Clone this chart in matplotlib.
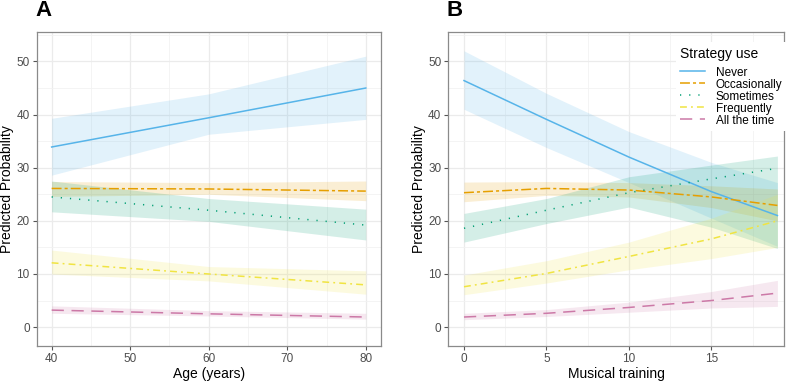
import matplotlib
matplotlib.use('Agg')
import matplotlib.pyplot as plt
from matplotlib.lines import Line2D

plt.rcParams['font.family'] = ['Liberation Sans', 'DejaVu Sans']

# strategy levels, colours and line styles
levels = ['Never', 'Occasionally', 'Sometimes', 'Frequently', 'All the time']
colors = ['#56B4E9', '#E69F00', '#009E73', '#F0E442', '#CC79A7']
styles = ['-', (0, (6.5, 2, 2, 2)), (0, (0.8, 5.2)), (0, (4.5, 2.7, 1.2, 2.7)), (0, (8, 5))]

# panel A: age
age = [40, 60, 80]
a_never = [33.9, 39.4, 45.0]
a_never_lo = [28.6, 36.3, 39.1]
a_never_hi = [39.3, 43.9, 51.0]
a_occ = [26.1, 26.0, 25.6]
a_occ_lo = [24.6, 25.0, 23.8]
a_occ_hi = [27.4, 27.2, 27.5]
a_some = [24.5, 22.0, 19.2]
a_some_lo = [21.7, 19.9, 16.4]
a_some_hi = [27.5, 24.2, 22.2]
a_freq = [12.1, 10.0, 7.95]
a_freq_lo = [10.0, 8.7, 6.2]
a_freq_hi = [14.5, 11.4, 10.6]
a_all = [3.2, 2.5, 1.9]
a_all_lo = [2.6, 2.1, 1.5]
a_all_hi = [4.0, 3.1, 2.6]

# panel B: musical training
train = [0, 5, 10, 15, 19]
b_never = [46.4, 39.1, 32.0, 25.5, 21.0]
b_never_lo = [41.0, 33.8, 27.2, 20.5, 15.2]
b_never_hi = [52.0, 44.0, 36.8, 31.0, 27.2]
b_occ = [25.3, 26.1, 25.8, 24.5, 22.9]
b_occ_lo = [23.6, 24.8, 24.5, 22.5, 20.0]
b_occ_hi = [27.3, 27.4, 27.2, 26.6, 26.0]
b_some = [18.6, 22.0, 25.3, 27.9, 29.9]
b_some_lo = [16.0, 19.5, 22.6, 18.8, 14.8]
b_some_hi = [21.4, 24.2, 28.3, 30.5, 32.2]
b_freq = [7.6, 10.1, 13.3, 16.6, 20.0]
b_freq_lo = [6.1, 8.3, 10.8, 12.9, 15.0]
b_freq_hi = [9.8, 12.5, 16.0, 20.5, 25.0]
b_all = [1.9, 2.6, 3.7, 5.0, 6.4]
b_all_lo = [1.4, 2.0, 2.8, 3.6, 3.9]
b_all_hi = [2.6, 3.3, 4.7, 6.7, 8.8]

a_fit = [a_never, a_occ, a_some, a_freq, a_all]
a_lo = [a_never_lo, a_occ_lo, a_some_lo, a_freq_lo, a_all_lo]
a_hi = [a_never_hi, a_occ_hi, a_some_hi, a_freq_hi, a_all_hi]
b_fit = [b_never, b_occ, b_some, b_freq, b_all]
b_lo = [b_never_lo, b_occ_lo, b_some_lo, b_freq_lo, b_all_lo]
b_hi = [b_never_hi, b_occ_hi, b_some_hi, b_freq_hi, b_all_hi]

fig = plt.figure(figsize=(8, 3.82), dpi=100)
axA = fig.add_axes([0.0459, 0.095, 0.43, 0.822])
axB = fig.add_axes([0.5604, 0.095, 0.4196, 0.822])


def draw_panel(ax, x, fits, los, his, xlabel, xticks, xminor, xlim):
    for lo, hi, c in zip(los, his, colors):
        ax.fill_between(x, lo, hi, color=c, alpha=0.17, lw=0, zorder=2)
    for y, c, ls in zip(fits, colors, styles):
        ax.plot(x, y, color=c, ls=ls, lw=1.1, zorder=3)
    ax.set_xlim(*xlim)
    ax.set_ylim(-3.5, 55.6)
    ax.set_xticks(xticks)
    ax.set_xticks(xminor, minor=True)
    ax.set_yticks([0, 10, 20, 30, 40, 50])
    ax.set_yticks([5, 15, 25, 35, 45, 55], minor=True)
    ax.grid(True, which='major', color='#EBEBEB', lw=0.9, zorder=0)
    ax.grid(True, which='minor', color='#F2F2F2', lw=0.6, zorder=0)
    ax.set_axisbelow(True)
    ax.tick_params(which='major', length=3, width=0.8, color='#555555',
                   labelcolor='#4D4D4D', labelsize=8.5, pad=2)
    ax.tick_params(which='minor', length=0)
    for s in ax.spines.values():
        s.set_color('#8A8A8A')
        s.set_linewidth(0.9)
    ax.set_xlabel(xlabel, fontsize=10, labelpad=2)
    ax.set_ylabel('Predicted Probability', fontsize=10, labelpad=1.5)


draw_panel(axA, age, a_fit, a_lo, a_hi, 'Age (years)',
           [40, 50, 60, 70, 80], [45, 55, 65, 75], (38.1, 81.9))
draw_panel(axB, train, b_fit, b_lo, b_hi, 'Musical training',
           [0, 5, 10, 15], [2.5, 7.5, 12.5, 17.5], (-0.95, 19.4))

handles = [Line2D([0], [0], color=c, ls=ls, lw=1.1) for c, ls in zip(colors, styles)]
leg = axB.legend(handles, levels, title='Strategy use', loc='upper left',
                 bbox_to_anchor=(0.66, 0.985), fontsize=8.5, title_fontsize=10,
                 frameon=True, framealpha=1, edgecolor='none', facecolor='white',
                 handlelength=2.1, handletextpad=0.9, labelspacing=0.0,
                 borderpad=0.4, alignment='left')
leg._legend_box.sep = 4
leg.set_zorder(5)

fig.text(35 / 800, 1 - 0 / 382, 'A', fontsize=16, fontweight='bold', va='top', ha='left')
fig.text(446 / 800, 1 - 0 / 382, 'B', fontsize=16, fontweight='bold', va='top', ha='left')

fig.savefig('out.png', dpi=100)
